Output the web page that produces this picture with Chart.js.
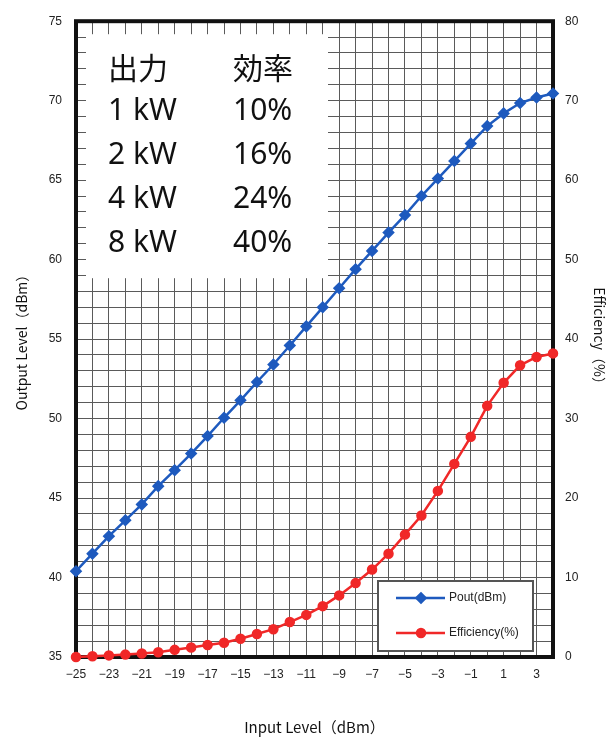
<!DOCTYPE html>
<html>
<head>
<meta charset="utf-8">
<script src="https://cdn.jsdelivr.net/npm/chart.js@4.4.1/dist/chart.umd.min.js"></script>
<style>
  html, body { margin: 0; padding: 0; background: #fff; }
  #wrap { width: 615px; height: 739px; }
</style>
</head>
<body>
<div id="wrap"><canvas id="chart"></canvas></div>
<script>
// data
const inputLevels = [-25, -24, -23, -22, -21, -20, -19, -18, -17, -16, -15, -14, -13, -12, -11,
                     -10, -9, -8, -7, -6, -5, -4, -3, -2, -1, 0, 1, 2, 3, 4];
const poutValues = [40.4, 41.5, 42.6, 43.6, 44.6, 45.75, 46.75, 47.8, 48.9, 50.05, 51.15, 52.3, 53.4, 54.6, 55.8,
                    57.0, 58.2, 59.4, 60.55, 61.7, 62.8, 64.0, 65.1, 66.2, 67.3, 68.4, 69.2, 69.85, 70.2, 70.45];
const efficiencyValues = [0.0, 0.1, 0.2, 0.3, 0.45, 0.6, 0.9, 1.2, 1.5, 1.8, 2.3, 2.9, 3.5, 4.4, 5.3,
                          6.4, 7.75, 9.3, 11.0, 13.0, 15.4, 17.8, 20.9, 24.3, 27.7, 31.6, 34.5, 36.7, 37.75, 38.2];
const seriesNames = ['Pout(dBm)', 'Efficiency(%)'];
const tableHead = ['出力', '効率'];
const tablePower = ['1 kW', '2 kW', '4 kW', '8 kW'];
const tableEff = ['10%', '16%', '24%', '40%'];

const blue = 'rgb(30, 90, 190)';
const red = 'rgb(240, 40, 40)';
const gridColor = '#5a5a5a';
const tickFont = { family: 'Liberation Sans, Arial, sans-serif', size: 12 };

const minus = v => String(v).replace('-', '\u2212');

// white box with the table + black frame round the plot
const overlay = {
  id: 'overlay',
  beforeDatasetsDraw(chart) {
    const { ctx, chartArea: a } = chart;
    ctx.save();
    ctx.fillStyle = '#fff';
    ctx.fillRect(a.left + 10, a.top + 13, 242, 244);

    ctx.fillStyle = '#111';
    ctx.textBaseline = 'middle';
    ctx.font = '30px "Noto Sans CJK JP", sans-serif';
    const c1 = a.left + 32, c2 = a.left + 157;
    let y = a.top + 46;
    ctx.fillText(tableHead[0], c1, y);
    ctx.fillText(tableHead[1], c2, y);
    ctx.font = '30px "Noto Sans", sans-serif';
    for (let i = 0; i < tablePower.length; i++) {
      y += 44;
      ctx.fillText(tablePower[i], c1, y);
      ctx.fillText(tableEff[i], c2, y);
    }

    ctx.strokeStyle = '#111';
    ctx.lineWidth = 4;
    ctx.strokeRect(a.left, a.top, a.right - a.left, a.bottom - a.top);
    ctx.restore();
  },
  afterDatasetsDraw(chart) {
    const { ctx, chartArea: a } = chart;
    const w = 155, h = 70;
    const bx = a.right - 20 - w, by = a.bottom - 6 - h;
    ctx.save();
    ctx.fillStyle = '#fff';
    ctx.fillRect(bx, by, w, h);
    ctx.strokeStyle = '#555';
    ctx.lineWidth = 2;
    ctx.strokeRect(bx, by, w, h);
    ctx.font = '12px "Liberation Sans", Arial, sans-serif';
    ctx.textBaseline = 'middle';
    chart.data.datasets.forEach((ds, i) => {
      const ly = by + 17 + i * 35;
      ctx.strokeStyle = ds.borderColor;
      ctx.lineWidth = 2.5;
      ctx.beginPath();
      ctx.moveTo(bx + 18, ly);
      ctx.lineTo(bx + 67, ly);
      ctx.stroke();
      Chart.helpers.drawPoint(ctx, {
        pointStyle: ds.pointStyle, radius: ds.pointRadius, rotation: 0, borderWidth: 1
      }, bx + 43, ly);
      ctx.fillStyle = ds.pointBackgroundColor;
      ctx.fill();
      ctx.fillStyle = '#222';
      ctx.fillText(ds.label, bx + 71, ly);
    });
    ctx.restore();
  }
};

new Chart(document.getElementById('chart'), {
  type: 'line',
  data: {
    datasets: [
      {
        label: seriesNames[0],
        data: inputLevels.map((x, i) => ({ x: x, y: poutValues[i] })),
        yAxisID: 'y',
        borderColor: blue,
        backgroundColor: blue,
        pointBackgroundColor: blue,
        pointBorderColor: blue,
        borderWidth: 2.5,
        pointStyle: 'rectRot',
        pointRadius: 4.5,
        clip: false
      },
      {
        label: seriesNames[1],
        data: inputLevels.map((x, i) => ({ x: x, y: efficiencyValues[i] })),
        yAxisID: 'y2',
        borderColor: red,
        backgroundColor: red,
        pointBackgroundColor: red,
        pointBorderColor: red,
        borderWidth: 2.5,
        pointStyle: 'circle',
        pointRadius: 4,
        clip: false
      }
    ]
  },
  options: {
    responsive: true,
    maintainAspectRatio: false,
    animation: false,
    layout: { padding: { top: 15 } },
    plugins: { legend: { display: false }, tooltip: { enabled: false } },
    scales: {
      x: {
        type: 'linear',
        min: -25,
        max: 4,
        afterFit: s => { s.height = 82; },
        ticks: {
          stepSize: 1,
          autoSkip: false,
          maxRotation: 0,
          padding: 10,
          color: '#222',
          font: tickFont,
          callback: v => (Math.abs(v % 2) === 1 && v <= 3) ? minus(v) : ''
        },
        grid: { color: gridColor, lineWidth: 1, drawTicks: false },
        border: { display: false },
        title: {
          display: true,
          text: 'Input Level（dBm）',
          color: '#111',
          font: { family: '"Noto Sans CJK JP", sans-serif', size: 15 },
          padding: { top: 0, bottom: 3 }
        }
      },
      y: {
        position: 'left',
        min: 35,
        max: 75,
        afterFit: s => { s.width = 76; },
        ticks: {
          stepSize: 1,
          autoSkip: false,
          padding: 14,
          color: '#222',
          font: tickFont,
          callback: v => v % 5 === 0 ? v : ''
        },
        grid: { color: gridColor, lineWidth: 1, drawTicks: false },
        border: { display: false },
        title: {
          display: true,
          text: 'Output Level（dBm）',
          color: '#111',
          font: { family: '"Noto Sans CJK JP", sans-serif', size: 14 },
          padding: { top: 13, bottom: 0 }
        }
      },
      y2: {
        position: 'right',
        min: 0,
        max: 80,
        afterFit: s => { s.width = 62; },
        ticks: {
          stepSize: 10,
          padding: 12,
          color: '#222',
          font: tickFont
        },
        grid: { display: false, drawTicks: false },
        border: { display: false },
        title: {
          display: true,
          text: 'Efficiency（%）',
          color: '#111',
          font: { family: '"Noto Sans CJK JP", sans-serif', size: 14 },
          padding: { top: 7, bottom: 0 }
        }
      }
    }
  },
  plugins: [overlay]
});
</script>
</body>
</html>
